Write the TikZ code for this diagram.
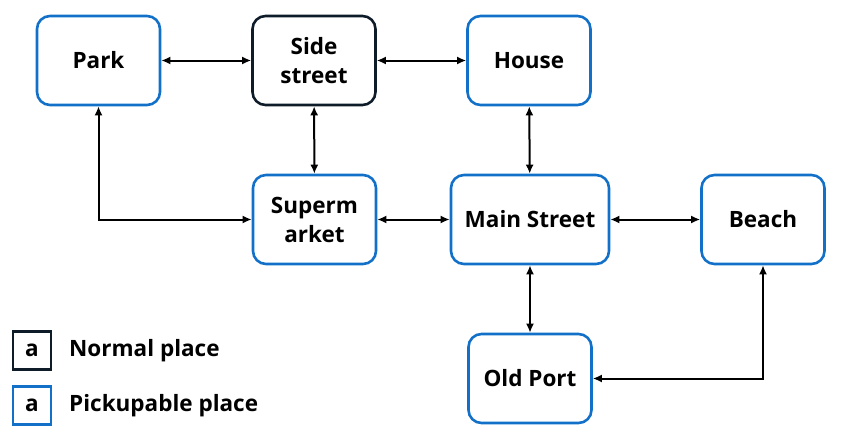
\documentclass[tikz,border=0pt]{standalone}
\usepackage{fontspec}
\setmainfont{Open Sans}
\usetikzlibrary{arrows.meta}
\definecolor{pblue}{RGB}{18,112,200}
\definecolor{pdark}{RGB}{14,28,42}
\begin{document}
\begin{tikzpicture}[x=1pt,y=-1pt,
  txt/.style={font=\bfseries\fontsize{22.5}{29}\selectfont},
  place/.style={txt,draw=pblue,line width=2.6pt,rounded corners=13pt,minimum width=123pt,minimum height=89pt,align=center,inner sep=0pt},
  normal/.style={place,draw=pdark},
  legbox/.style={txt,draw=#1,line width=2.6pt,minimum width=38pt,minimum height=38pt,inner sep=0pt},
  legtext/.style={txt,anchor=west,inner sep=0pt},
  conn/.style={line width=2pt,{Latex[length=9pt,width=8pt]}-{Latex[length=9pt,width=8pt]}}
]
\useasboundingbox (0,0) rectangle (844,434);
\node[place] (park) at (98.5,60.5) {Park};
\node[normal] (side) at (314,60.5) {Side\\street};
\node[place] (house) at (529,60.5) {House};
\node[place] (super) at (314.5,219.5) {Superm\\arket};
\node[place,minimum width=158pt] (main) at (530,219.5) {Main Street};
\node[place] (beach) at (763,219.5) {Beach};
\node[place] (port) at (530,378.5) {Old Port};
\draw[conn] (park) -- (side);
\draw[conn] (side) -- (house);
\draw[conn] (side) -- (super);
\draw[conn] (park.south) |- (super.west);
\draw[conn] (super) -- (main);
\draw[conn] (main) -- (beach);
\draw[conn] (house) -- (main);
\draw[conn] (main) -- (port);
\draw[conn] (beach.south) |- (port.east);
\node[legbox=pdark] (lega) at (32,350.5) {a};
\node[legbox=pblue] (legb) at (32,405.5) {a};
\node[legtext] (lt1) at (69,350.5) {Normal place};
\node[legtext] (lt2) at (69,405.5) {Pickupable place};
\end{tikzpicture}
\end{document}
